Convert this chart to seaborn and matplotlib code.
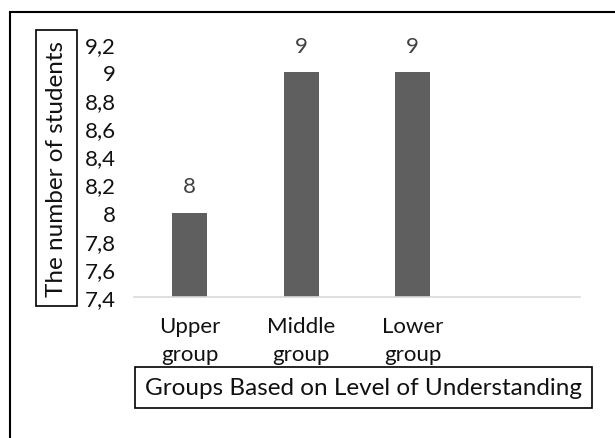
import matplotlib
matplotlib.use("Agg")
import matplotlib.pyplot as plt
import seaborn as sns
import pandas as pd
from matplotlib.patches import Rectangle

categories = ["Upper\ngroup", "Middle\ngroup", "Lower\ngroup"]
values = [8, 9, 9]
y_ticks = [7.4, 7.6, 7.8, 8.0, 8.2, 8.4, 8.6, 8.8, 9.0, 9.2]
x_title = "Groups Based on Level of Understanding"
y_title = "The number of students"

sns.set_style("white")
plt.rcParams["font.family"] = ["Lato", "DejaVu Sans"]

df = pd.DataFrame({"group": categories, "students": values})

W, H = 615, 439
fig = plt.figure(figsize=(W / 100, H / 100), dpi=100)
ax = fig.add_axes([134 / W, 1 - 298 / H, 446 / W, (298 - 45) / H])

sns.barplot(data=df, x="group", y="students", color="#5f5f5f", width=0.31,
            saturation=1, ax=ax, order=categories)
for p in ax.patches:
    p.set_edgecolor("none")

ax.set_xlim(-0.5, 3.5)
ax.set_ylim(7.4, 9.2)
ax.set_yticks(y_ticks)
ax.set_yticklabels([("%g" % t).replace(".", ",") for t in y_ticks])

for i, v in enumerate(values):
    ax.annotate(str(v), (i, v), xytext=(0, 19), textcoords="offset points",
                ha="center", va="center", color="#404040", fontsize=16)

for s in ["top", "right", "left"]:
    ax.spines[s].set_visible(False)
ax.spines["bottom"].set_color("#d9d9d9")
ax.spines["bottom"].set_linewidth(1.2)

ax.set_xticks(range(3))
ax.set_xticklabels(categories, fontsize=16, color="#111111", linespacing=1.45)
ax.set_xticks([-0.5, 0.5, 1.5, 2.5, 3.5], minor=True)
ax.tick_params(axis="x", which="major", length=0, pad=14)
ax.tick_params(axis="x", which="minor", length=6, color="#d9d9d9", width=1.2)
ax.tick_params(axis="y", length=0, labelsize=16, labelcolor="#111111", pad=13)
ax.set_xlabel("")
ax.set_ylabel("")

# axis titles in boxes
fig.text(363.5 / W, 1 - 388.5 / H, x_title, ha="center", va="center",
         fontsize=17.5, color="#111111")
fig.add_artist(Rectangle((135 / W, 1 - 409 / H), (592 - 135) / W, (409 - 368) / H,
                         transform=fig.transFigure, fill=False, edgecolor="black", lw=1.2))
fig.text(57 / W, 1 - 169 / H, y_title, ha="center", va="center", rotation=90,
         fontsize=17.5, color="#111111")
fig.add_artist(Rectangle((36 / W, 1 - 307 / H), (77 - 36) / W, (307 - 31) / H,
                         transform=fig.transFigure, fill=False, edgecolor="black", lw=1.2))

# outer chart border
fig.add_artist(Rectangle((10 / W, -0.1), 1.2, 1.1 - 13 / H,
                         transform=fig.transFigure, fill=False, edgecolor="black", lw=1.5))

fig.savefig("out.png", dpi=100)
